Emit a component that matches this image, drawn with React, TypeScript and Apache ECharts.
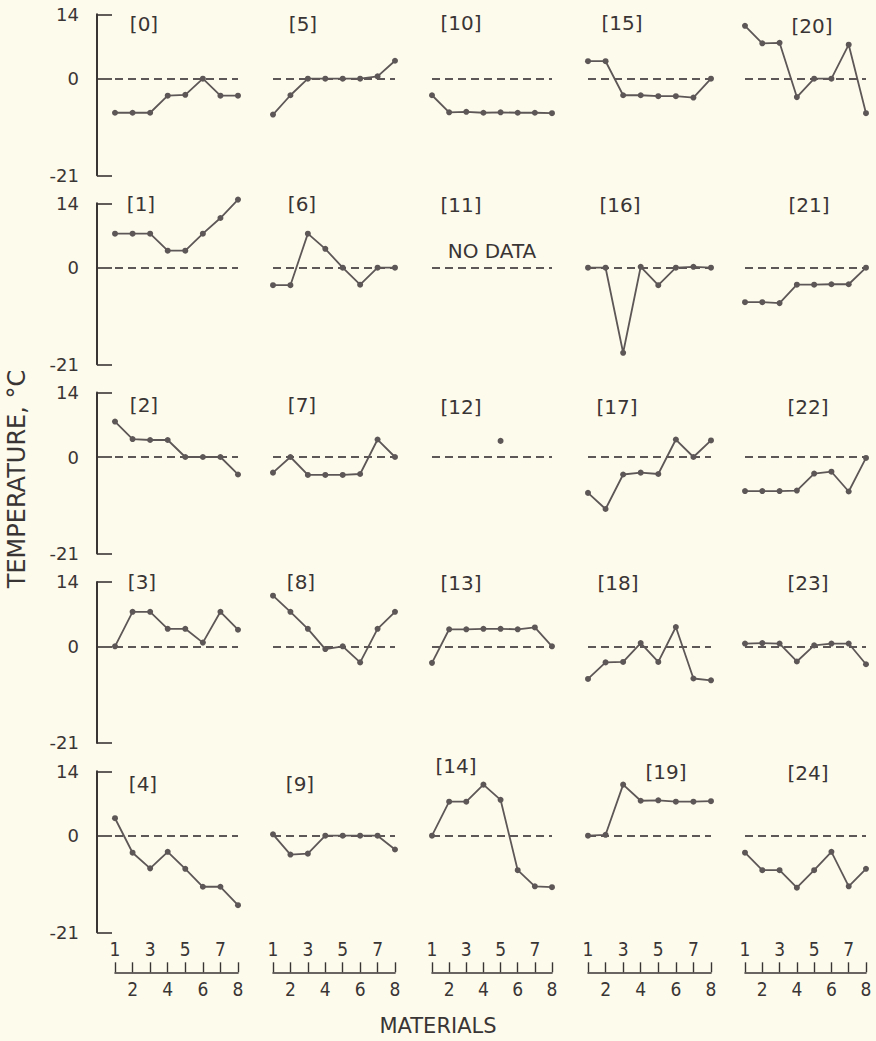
import React, { useEffect, useRef } from "react";
import * as echarts from "echarts";

// Materials (x axis) and tick labels
const materials = [1, 2, 3, 4, 5, 6, 7, 8];
const yTickValues = [-21, 0, 14];
const xEvenTicks = [2, 4, 6, 8];
const xOddTicks = [1, 3, 5, 7];

const panelNames = [
  "[0]", "[1]", "[2]", "[3]", "[4]",
  "[5]", "[6]", "[7]", "[8]", "[9]",
  "[10]", "[11]", "[12]", "[13]", "[14]",
  "[15]", "[16]", "[17]", "[18]", "[19]",
  "[20]", "[21]", "[22]", "[23]", "[24]",
];

// Temperature readings, °C, for materials 1..8 (null = no reading)
const t0 = [-7.4, -7.4, -7.4, -3.7, -3.5, 0, -3.7, -3.7];
const t1 = [7.4, 7.4, 7.4, 3.7, 3.7, 7.4, 10.8, 14.8];
const t2 = [7.7, 3.9, 3.7, 3.7, 0, 0, 0, -3.8];
const t3 = [0, 7.5, 7.5, 3.8, 3.8, 0.8, 7.5, 3.6];
const t4 = [3.8, -3.7, -7.1, -3.5, -7.2, -11.1, -11.1, -15.1];
const t5 = [-7.8, -3.6, 0, 0, 0, 0, 0.5, 3.9];
const t6 = [-3.8, -3.8, 7.4, 4.1, 0, -3.7, 0, 0];
const t7 = [-3.4, 0, -3.9, -3.9, -3.9, -3.7, 3.8, 0];
const t8 = [11, 7.5, 3.8, -0.6, 0, -3.5, 3.8, 7.5];
const t9 = [0.3, -4.1, -3.9, 0, 0, 0, 0, -3];
const t10 = [-3.6, -7.3, -7.2, -7.4, -7.3, -7.4, -7.4, -7.5];
const t11 = [null, null, null, null, null, null, null, null];
const t12 = [null, null, null, null, 3.5, null, null, null];
const t13 = [-3.6, 3.7, 3.7, 3.8, 3.8, 3.7, 4.1, 0];
const t14 = [0, 7.4, 7.4, 11.1, 7.8, -7.5, -11, -11.2];
const t15 = [3.8, 3.8, -3.6, -3.6, -3.8, -3.8, -4.1, 0];
const t16 = [0, 0, -18.5, 0.2, -3.8, 0, 0.2, 0];
const t17 = [-7.8, -11.3, -3.8, -3.4, -3.7, 3.8, 0, 3.6];
const t18 = [-7.1, -3.5, -3.4, 0.7, -3.4, 4.2, -7, -7.4];
const t19 = [0, 0.2, 11.1, 7.6, 7.7, 7.4, 7.4, 7.5];
const t20 = [11.5, 7.7, 7.8, -4, 0, 0, 7.4, -7.5];
const t21 = [-7.5, -7.5, -7.7, -3.7, -3.7, -3.6, -3.6, 0];
const t22 = [-7.4, -7.4, -7.4, -7.3, -3.6, -3.2, -7.5, -0.2];
const t23 = [0.6, 0.7, 0.6, -3.3, 0.2, 0.6, 0.6, -3.9];
const t24 = [-3.7, -7.5, -7.5, -11.3, -7.5, -3.5, -11, -7.2];

const temps = [
  t0, t1, t2, t3, t4, t5, t6, t7, t8, t9, t10, t11, t12,
  t13, t14, t15, t16, t17, t18, t19, t20, t21, t22, t23, t24,
];

// Layout (pixels)
const colLefts = [115, 273, 432, 588, 745];
const colWidths = [123, 122, 120, 123, 121];
const rowTops = [14.3, 203.3, 392.6, 581.9, 771.3];
const gridHeight = 161;
const labelPos = [
  [144, 24], [141, 204], [144, 405], [142, 582], [143, 784],
  [303, 24], [302, 204], [302, 405], [301, 582], [300, 784],
  [461, 23], [461, 205], [461, 407], [461, 583], [456, 766],
  [622, 23], [620, 205], [617, 407], [618, 583], [666, 772],
  [812, 26], [809, 205], [808, 407], [808, 583], [808, 773],
];

const FONT = "'DejaVu Sans', 'Noto Sans', sans-serif";
const NARROW = "'Liberation Sans Narrow', 'DejaVu Sans Condensed', 'DejaVu Sans', sans-serif";
const INK = "#3a3535";
const LINE = "#5e5757";

export default function App() {
  const ref = useRef<HTMLDivElement>(null);

  useEffect(() => {
    if (!ref.current) return;
    const chart = echarts.init(ref.current, undefined, { renderer: "svg" });

    const grids: any[] = [];
    const xAxes: any[] = [];
    const yAxes: any[] = [];
    const series: any[] = [];

    for (let p = 0; p < 25; p++) {
      const col = Math.floor(p / 5);
      const row = p % 5;
      grids.push({
        left: colLefts[col],
        top: rowTops[row],
        width: colWidths[col],
        height: gridHeight,
      });
      const bottomRow = row === 4;
      xAxes.push({
        gridIndex: p,
        type: "value",
        min: 1,
        max: 8,
        interval: 1,
        show: bottomRow,
        position: "bottom",
        offset: 40,
        splitLine: { show: false },
        axisLine: { show: bottomRow, onZero: false, lineStyle: { color: INK, width: 1.6 } },
        axisTick: {
          show: bottomRow,
          inside: true,
          length: 10,
          lineStyle: { color: INK, width: 1.4 },
        },
        axisLabel: {
          show: bottomRow,
          customValues: xEvenTicks,
          margin: 7,
          color: INK,
          fontSize: 19,
          fontFamily: NARROW,
        },
      });
      yAxes.push({
        gridIndex: p,
        type: "value",
        min: -21,
        max: 14,
        show: col === 0,
        position: "left",
        offset: 18,
        splitLine: { show: false },
        axisLine: { show: col === 0, onZero: false, lineStyle: { color: INK, width: 2 } },
        axisTick: {
          show: col === 0,
          inside: true,
          length: 15,
          customValues: yTickValues,
          lineStyle: { color: INK, width: 1.6 },
        },
        axisLabel: {
          show: col === 0,
          customValues: yTickValues,
          margin: 18,
          color: INK,
          fontSize: 18,
          fontFamily: FONT,
        },
      });
      const vals = temps[p];
      const data = materials
        .map((m, i) => [m, vals[i]])
        .filter((d) => d[1] !== null && d[1] !== undefined);
      series.push({
        type: "line",
        xAxisIndex: p,
        yAxisIndex: p,
        data: data.length ? data : [[1, null]],
        clip: false,
        symbol: "circle",
        symbolSize: 6,
        showSymbol: true,
        showAllSymbol: true,
        lineStyle: { color: LINE, width: 1.8 },
        itemStyle: { color: LINE },
        z: 3,
        markLine: {
          silent: true,
          symbol: ["none", "none"],
          label: { show: false },
          lineStyle: { type: [8, 5], color: LINE, width: 1.8 },
          data: [{ yAxis: 0 }],
          z: 2,
        },
      });
    }

    // odd material numbers shown above the bottom-row axes
    for (let c = 0; c < 5; c++) {
      const p = c * 5 + 4;
      xAxes.push({
        gridIndex: p,
        type: "value",
        min: 1,
        max: 8,
        interval: 1,
        position: "bottom",
        offset: 40,
        splitLine: { show: false },
        axisLine: { show: false, onZero: false },
        axisTick: { show: false },
        axisLabel: {
          inside: true,
          customValues: xOddTicks,
          margin: 14,
          color: INK,
          fontSize: 19,
          fontFamily: NARROW,
        },
      });
    }

    const graphics: any[] = panelNames.map((name, p) => ({
      type: "text",
      x: labelPos[p][0],
      y: labelPos[p][1],
      style: {
        text: name,
        align: "center",
        verticalAlign: "middle",
        fill: INK,
        fontSize: 20,
        fontFamily: FONT,
      },
    }));
    graphics.push({
      type: "text",
      x: 492,
      y: 251,
      style: {
        text: "NO DATA",
        align: "center",
        verticalAlign: "middle",
        fill: INK,
        fontSize: 20,
        fontFamily: FONT,
      },
    });
    graphics.push({
      type: "text",
      x: 17,
      y: 479,
      rotation: Math.PI / 2,
      style: {
        text: "TEMPERATURE, °C",
        align: "center",
        verticalAlign: "middle",
        fill: INK,
        fontSize: 24,
        fontFamily: FONT,
      },
    });
    graphics.push({
      type: "text",
      x: 438,
      y: 1026,
      style: {
        text: "MATERIALS",
        align: "center",
        verticalAlign: "middle",
        fill: INK,
        fontSize: 21,
        fontFamily: FONT,
      },
    });

    chart.setOption({
      animation: false,
      backgroundColor: "#fdfbec",
      grid: grids,
      xAxis: xAxes,
      yAxis: yAxes,
      series,
      graphic: graphics,
    });

    return () => chart.dispose();
  }, []);

  return (
    <div
      ref={ref}
      style={{ position: "absolute", left: 0, top: 0, width: 876, height: 1041 }}
    />
  );
}
